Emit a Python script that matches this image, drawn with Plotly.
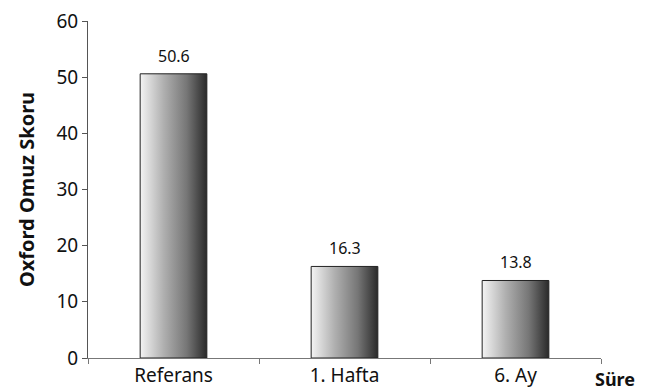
import plotly.graph_objects as go

categories = ["Referans", "1. Hafta", "6. Ay"]
values = [50.6, 16.3, 13.8]
value_labels = ["50.6", "16.3", "13.8"]
y_ticks = [0, 10, 20, 30, 40, 50, 60]

BAR_WIDTH = 0.39
FONT = "Noto Sans"
gradient = [[0.0, "#f4f4f4"], [0.35, "#b0b0b0"], [0.7, "#767676"], [1.0, "#2a2a2a"]]

fig = go.Figure()
for i, v in enumerate(values):
    x0, x1 = i - BAR_WIDTH / 2, i + BAR_WIDTH / 2
    fig.add_trace(go.Scatter(
        x=[x0, x1, x1, x0, x0], y=[0, 0, v, v, 0],
        mode="lines", fill="toself",
        fillgradient=dict(type="horizontal", colorscale=gradient),
        line=dict(color="#222222", width=1),
        hoverinfo="skip", showlegend=False,
    ))
    fig.add_annotation(x=i, y=v, text=value_labels[i], showarrow=False,
                       yanchor="bottom", yshift=5,
                       font=dict(family=FONT, size=16, color="#111111"))

fig.add_annotation(xref="paper", yref="paper", x=1, y=0, text="<b>Süre</b>",
                   showarrow=False, xanchor="left", yanchor="top",
                   xshift=-8, yshift=-7,
                   font=dict(family=FONT, size=18, color="#111111"))

fig.update_layout(
    width=650, height=391,
    margin=dict(l=88, r=49, t=21, b=33),
    paper_bgcolor="white", plot_bgcolor="white",
    font=dict(family=FONT, size=19, color="#111111"),
    xaxis=dict(range=[-0.5, 2.5], tickvals=list(range(len(categories))),
               ticktext=categories, ticks="", showgrid=False, zeroline=False,
               showline=True, linecolor="#777777", linewidth=1,
               tickfont=dict(size=19), automargin=False,
               minor=dict(ticks="outside", tick0=0.5, dtick=1, ticklen=5,
                          tickcolor="#777777", showgrid=False)),
    yaxis=dict(range=[0, 60], tickvals=y_ticks, ticks="outside", ticklen=5,
               tickcolor="#555555", showgrid=False, zeroline=False,
               showline=True, linecolor="#555555", linewidth=1,
               tickfont=dict(size=19), automargin=False,
               title=dict(text="<b>Oxford Omuz Skoru</b>", font=dict(size=20),
                          standoff=16)),
)

fig.write_html("out.html")
